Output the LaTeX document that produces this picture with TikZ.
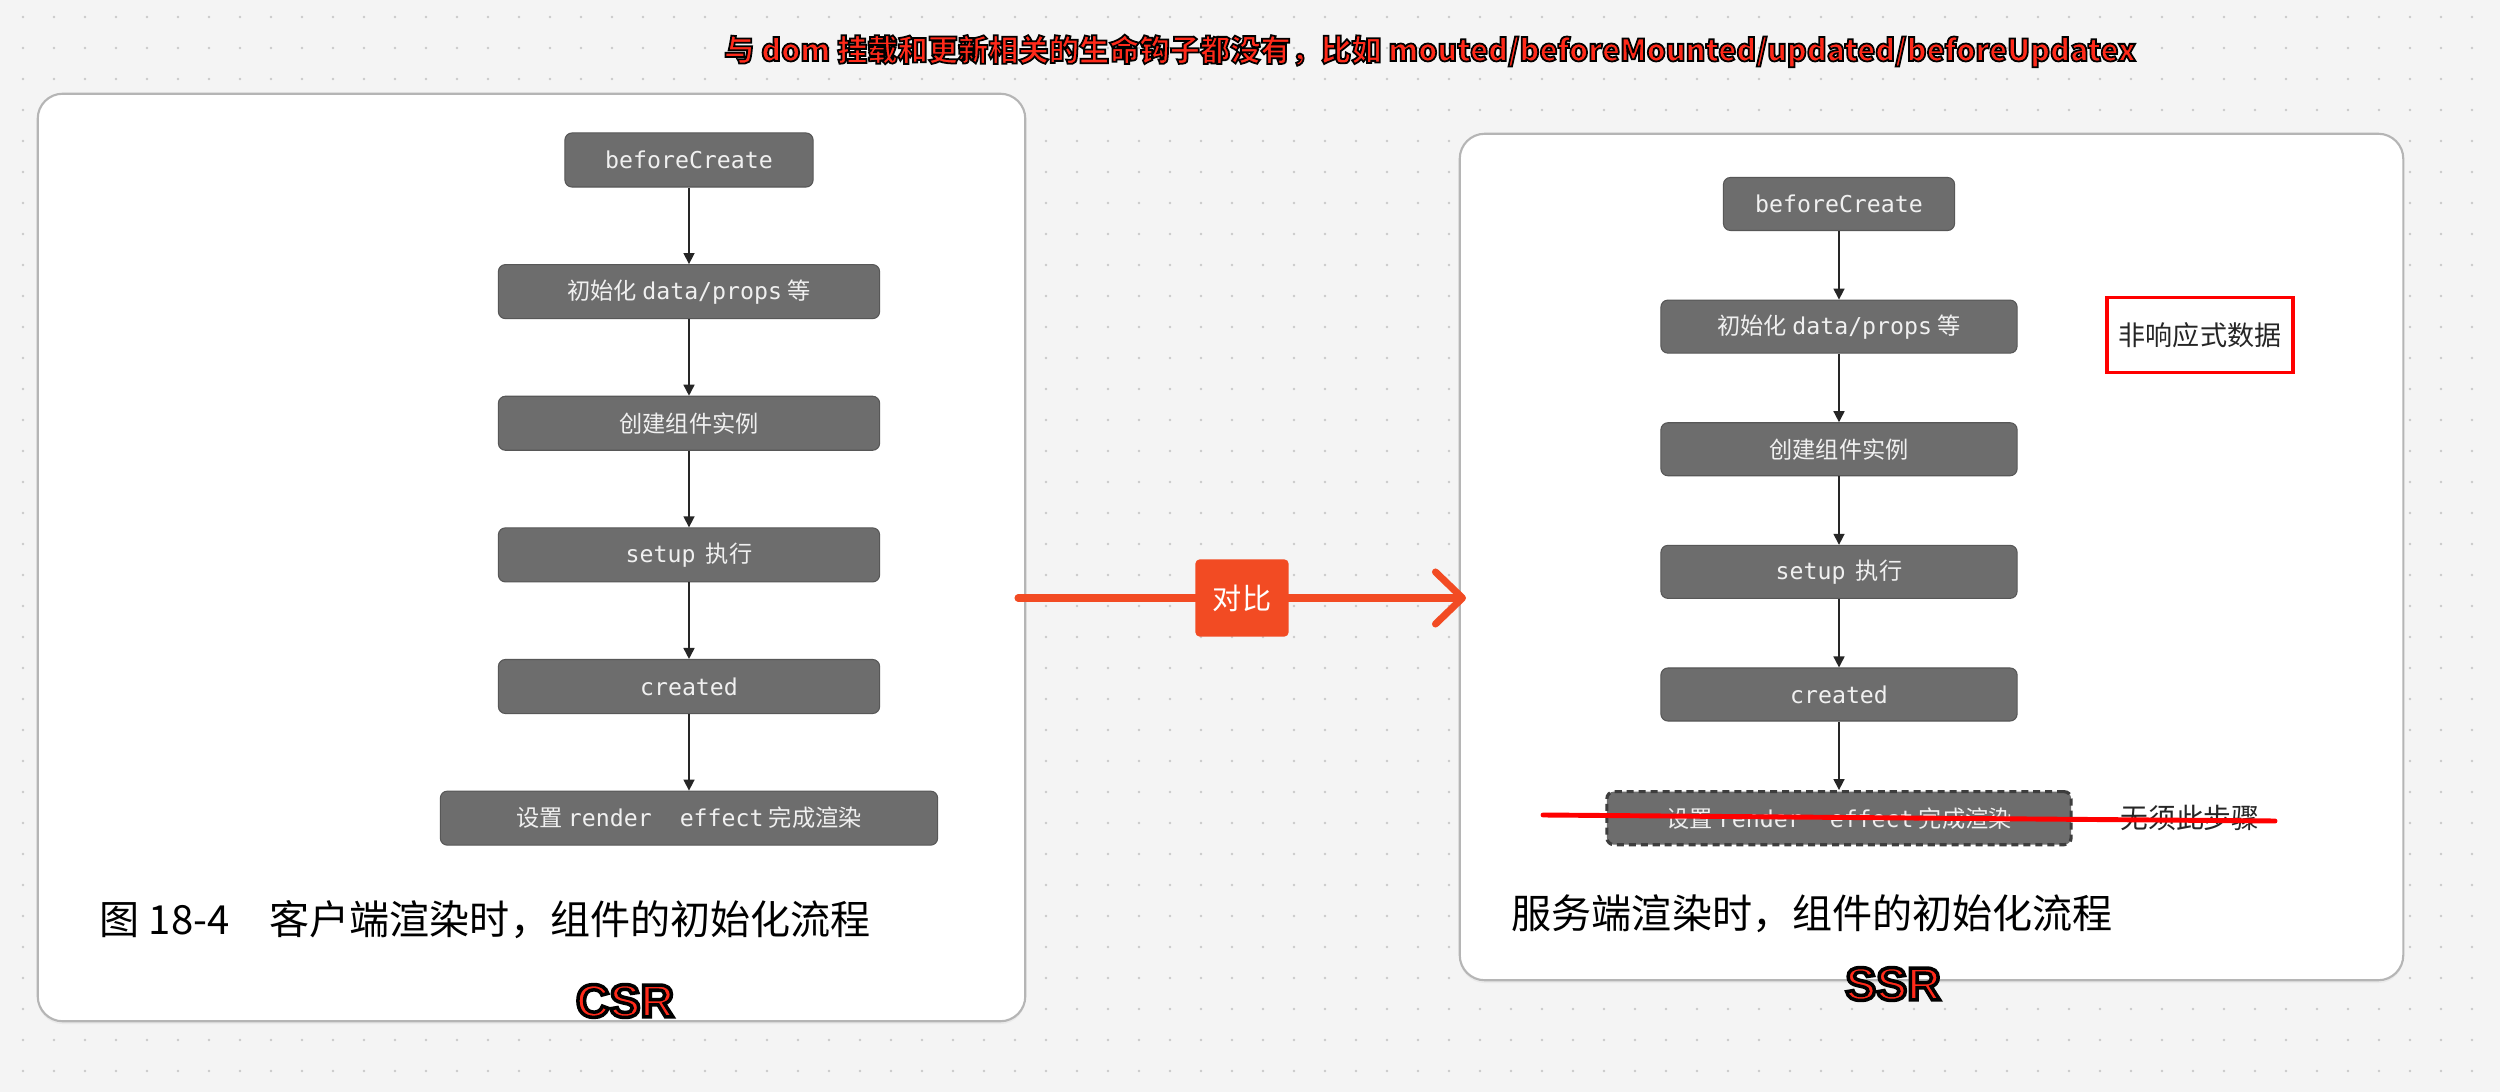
\documentclass[tikz,border=0pt]{standalone}
\usepackage{fontspec}
\usetikzlibrary{positioning,arrows.meta,shadows}
\setmainfont{Noto Sans CJK SC}
\newfontfamily\mono{DejaVu Sans Mono}
\newfontfamily\heavy{Liberation Sans}
\definecolor{canvas}{HTML}{F4F4F4}
\definecolor{gridDot}{HTML}{CACACA}
\definecolor{frame}{HTML}{B5B5B5}
\definecolor{stepFill}{HTML}{6D6D6D}
\definecolor{stepLine}{HTML}{575757}
\definecolor{stepText}{HTML}{F0F0F0}
\definecolor{alert}{HTML}{FF0000}
\definecolor{hotRed}{HTML}{FF2A1A}
\definecolor{accent}{HTML}{F24B23}
\newcommand{\outlined}[2]{\special{pdf:literal direct 2 Tr #1 w 0 0 0 RG}#2\special{pdf:literal direct 0 Tr}}
\tikzset{
  panel/.style={rectangle, rounded corners=0.25cm, draw=frame, line width=0.6pt, fill=white,
                drop shadow={opacity=0.08, shadow xshift=0pt, shadow yshift=-0.8pt}},
  stepbox/.style={rectangle, rounded corners=0.07cm, draw=stepLine, line width=0.3pt, fill=stepFill,
                  text=stepText, minimum height=0.54cm, inner sep=0pt, font=\fontsize{6.6}{7}\selectfont},
  ssrbox/.style={stepbox, minimum height=0.53cm},
  skipbox/.style={ssrbox, draw=stepLine!70!black, line width=0.9pt, dash pattern=on 2pt off 1.4pt},
  caption/.style={anchor=west, inner sep=0pt, font=\fontsize{11.4}{13}\selectfont},
  badge/.style={font=\heavy\bfseries\fontsize{13.2}{15}\selectfont, text=hotRed},
  stepflow/.style={-{Triangle[length=0.11cm, width=0.11cm]}, line width=0.45pt, draw=black!85},
  cmpflow/.style={-{Straight Barb[length=0.27cm, width=0.52cm, round]}, line width=2pt, line cap=round, draw=accent},
  note/.style={font=\fontsize{7.7}{9}\selectfont, text=black!85}
}
\begin{document}
\begin{tikzpicture}[x=0.01cm, y=-0.01cm]
\useasboundingbox (0,0) rectangle (2500,1092);
\fill[canvas] (0,0) rectangle (2500,1092);
\fill[gridDot] \foreach \gx in {23,54,...,2500} {\foreach \gy in {17,48,...,1092} {(\gx,\gy) circle (1.4)}};

\node[panel, minimum width=9.87cm, minimum height=9.27cm] (csrPanel) at (531.5,557.5) {};
\node[panel, minimum width=9.43cm, minimum height=8.46cm] (ssrPanel) at (1931.5,557) {};

\node[stepbox, minimum width=2.48cm] (cBefore) at (689,160) {\mono beforeCreate};
\node[stepbox, minimum width=3.81cm, below=0.765cm of cBefore] (cInit) {初始化 {\mono data/props} 等};
\node[stepbox, minimum width=3.81cm, below=0.765cm of cInit] (cInstance) {创建组件实例};
\node[stepbox, minimum width=3.81cm, below=0.765cm of cInstance] (cSetup) {{\mono setup}\ \ 执行};
\node[stepbox, minimum width=3.81cm, below=0.765cm of cSetup] (cCreated) {\mono created};
\node[stepbox, minimum width=4.97cm, below=0.765cm of cCreated] (cRender) {设置 {\mono render\ \ effect} 完成渲染};

\node[ssrbox, minimum width=2.31cm] (sBefore) at (1839,204) {\mono beforeCreate};
\node[ssrbox, minimum width=3.56cm, below=0.685cm of sBefore] (sInit) {初始化 {\mono data/props} 等};
\node[ssrbox, minimum width=3.56cm, below=0.685cm of sInit] (sInstance) {创建组件实例};
\node[ssrbox, minimum width=3.56cm, below=0.685cm of sInstance] (sSetup) {{\mono setup}\ \ 执行};
\node[ssrbox, minimum width=3.56cm, below=0.685cm of sSetup] (sCreated) {\mono created};
\node[skipbox, minimum width=4.64cm, below=0.685cm of sCreated] (sRender) {设置 {\mono render\ \ effect} 完成渲染};

\draw[stepflow] (cBefore) -- (cInit);
\draw[stepflow] (cInit) -- (cInstance);
\draw[stepflow] (cInstance) -- (cSetup);
\draw[stepflow] (cSetup) -- (cCreated);
\draw[stepflow] (cCreated) -- (cRender);
\draw[stepflow] (sBefore) -- (sInit);
\draw[stepflow] (sInit) -- (sInstance);
\draw[stepflow] (sInstance) -- (sSetup);
\draw[stepflow] (sSetup) -- (sCreated);
\draw[stepflow] (sCreated) -- (sRender);

\node[caption] (csrCaption) at (99,920) {图 18-4　客户端渲染时，组件的初始化流程};
\node[caption] (ssrCaption) at (1511,914) {服务端渲染时，组件的初始化流程};

\coordinate (cmpStart) at (1018,598);
\coordinate (cmpEnd) at (1466,598);
\draw[cmpflow] (cmpStart) -- (cmpEnd);
\node[rectangle, rounded corners=0.04cm, fill=accent, text=white, minimum width=0.93cm, minimum height=0.77cm,
      font=\fontsize{8.3}{9}\selectfont] (compare) at (1242,598) {对比};

\node[rectangle, draw=alert, line width=0.95pt, minimum width=1.78cm, minimum height=0.75cm, note] (reactNote) at (2200,335) {非响应式数据};
\node[note, font=\fontsize{7.9}{9}\selectfont] (skipNote) at (2190,818) {无须此步骤};
\coordinate (strikeStart) at (1543,815);
\coordinate (strikeEnd) at (2275,821);
\draw[alert, line width=1.4pt, line cap=round] (strikeStart) -- (strikeEnd);

\node[font=\bfseries\fontsize{8.6}{10}\selectfont, text=hotRed] (headline) at (1430,51)
  {\outlined{0.5}{与 dom 挂载和更新相关的生命钩子都没有，比如 mouted/beforeMounted/updated/beforeUpdatex}};
\node[badge] (csrBadge) at (625,1001) {\outlined{1.0}{CSR}};
\node[badge] (ssrBadge) at (1893,984) {\outlined{1.0}{SSR}};
\end{tikzpicture}
\end{document}
